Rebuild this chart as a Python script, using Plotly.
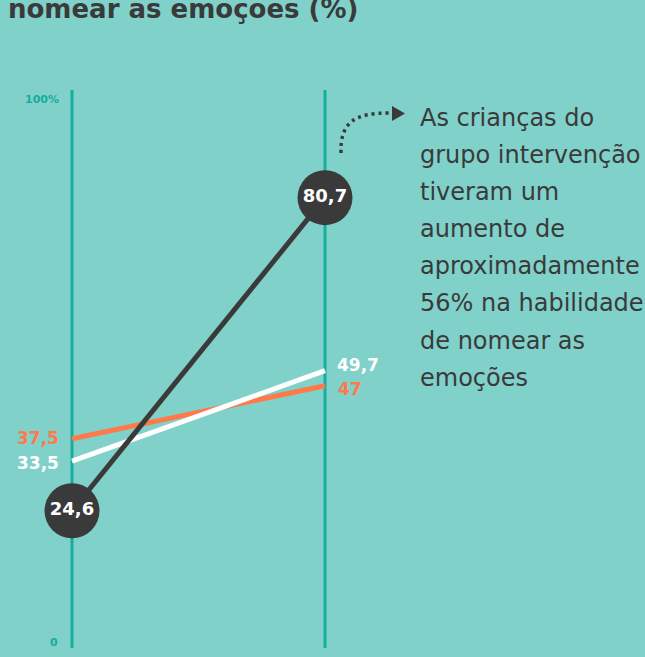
import plotly.graph_objects as go

# ---- data ----
moments = [0, 1]                      # before / after
series_names = ["Intervenção", "Controle A", "Controle B"]
dark_vals = [24.6, 80.7]
white_vals = [33.5, 49.7]
orange_vals = [37.5, 47.0]
dark_labels = ["24,6", "80,7"]
white_labels = ["33,5", "49,7"]
orange_labels = ["37,5", "47"]
axis_ticks = [0, 100]
axis_ticktext = ["0", "100%"]
title_text = "nomear as emoções (%)"
note_lines = ["As crianças do", "grupo intervenção", "tiveram um", "aumento de",
              "aproximadamente", "56% na habilidade", "de nomear as", "emoções"]

# ---- style ----
W, H = 645, 657
BG = "#80d1ca"
TEAL = "#14ad9e"
DARK = "#3a3a3a"
ORANGE = "#ff7a4a"
WHITE = "#ffffff"
FONT = "DejaVu Sans"

# pixel mapping helpers (for paper-positioned decoration)
def px(x):
    return x / W

def py(y):
    return 1 - y / H

# axis ranges: x=0 at 72px, x=1 at 325px ; y=0 at 648px, 100 at 90px
xs = 325 - 72
x_min = -72 / xs
x_max = x_min + W / xs
ys = (648 - 90) / 100
y_min = -(H - 648) / ys
y_max = y_min + H / ys

fig = go.Figure()

# vertical axis lines
for m in moments:
    fig.add_shape(type="line", xref="x", yref="y", x0=m, x1=m,
                  y0=axis_ticks[0], y1=axis_ticks[1],
                  line=dict(color=TEAL, width=3), layer="below")

fig.add_trace(go.Scatter(x=moments, y=orange_vals, mode="lines",
                         line=dict(color=ORANGE, width=5), name=series_names[2],
                         hoverinfo="skip"))
fig.add_trace(go.Scatter(x=moments, y=white_vals, mode="lines",
                         line=dict(color=WHITE, width=5), name=series_names[1],
                         hoverinfo="skip"))
fig.add_trace(go.Scatter(x=moments, y=dark_vals, mode="lines+markers+text",
                         line=dict(color=DARK, width=5),
                         marker=dict(size=55, color=DARK),
                         text=dark_labels, textposition="middle center",
                         textfont=dict(family=FONT, size=18, color=WHITE, weight="bold"),
                         name=series_names[0], hoverinfo="skip"))

annotations = []
# side labels for orange / white
annotations.append(dict(x=moments[0], y=orange_vals[0], text=orange_labels[0],
                        xanchor="right", yanchor="middle", xshift=-11, yshift=1,
                        showarrow=False, font=dict(family=FONT, size=17, color=ORANGE, weight="bold")))
annotations.append(dict(x=moments[0], y=white_vals[0], text=white_labels[0],
                        xanchor="right", yanchor="middle", xshift=-11, yshift=-2,
                        showarrow=False, font=dict(family=FONT, size=17, color=WHITE, weight="bold")))
annotations.append(dict(x=moments[1], y=white_vals[1], text=white_labels[1],
                        xanchor="left", yanchor="middle", xshift=10, yshift=6,
                        showarrow=False, font=dict(family=FONT, size=17, color=WHITE, weight="bold")))
annotations.append(dict(x=moments[1], y=orange_vals[1], text=orange_labels[1],
                        xanchor="left", yanchor="middle", xshift=11, yshift=-3,
                        showarrow=False, font=dict(family=FONT, size=17, color=ORANGE, weight="bold")))

# axis end labels
annotations.append(dict(x=moments[0], y=axis_ticks[1], text=axis_ticktext[1],
                        xanchor="right", yanchor="middle", xshift=-11, yshift=-9,
                        showarrow=False, font=dict(family=FONT, size=11, color=TEAL, weight="bold")))
annotations.append(dict(x=moments[0], y=axis_ticks[0], text=axis_ticktext[0],
                        xanchor="right", yanchor="middle", xshift=-12, yshift=6,
                        showarrow=False, font=dict(family=FONT, size=11, color=TEAL, weight="bold")))

# title (cut at top, as in the source image)
annotations.append(dict(xref="paper", yref="paper", x=px(7), y=1, text=title_text,
                        xanchor="left", yanchor="top", yshift=7, borderpad=0,
                        showarrow=False, font=dict(family=FONT, size=26, color=DARK, weight="bold")))

# note text
for i, line in enumerate(note_lines):
    annotations.append(dict(xref="paper", yref="paper", x=px(418), y=py(118 + 37.1 * i),
                            text=line, xanchor="left", yanchor="middle", showarrow=False,
                            font=dict(family=FONT, size=24, color=DARK)))

# dotted curved arrow
shapes = [
    dict(type="path", xref="paper", yref="paper",
         path=f"M {px(341)},{py(153)} C {px(340)},{py(122)} {px(355)},{py(113)} {px(389)},{py(113)}",
         line=dict(color=DARK, width=3.5, dash="3px,4px")),
    dict(type="path", xref="paper", yref="paper",
         path=f"M {px(392)},{py(106)} L {px(405)},{py(113.5)} L {px(392)},{py(121)} Z",
         fillcolor=DARK, line=dict(color=DARK, width=0)),
]
for s in shapes:
    fig.add_shape(**s)

fig.update_layout(
    width=W, height=H,
    margin=dict(l=0, r=0, t=0, b=0),
    paper_bgcolor=BG, plot_bgcolor=BG,
    showlegend=False,
    xaxis=dict(range=[x_min, x_max], visible=False, fixedrange=True),
    yaxis=dict(range=[y_min, y_max], visible=False, fixedrange=True),
    annotations=annotations,
)

fig.write_html("out.html", config={"displayModeBar": False},
               post_script="document.body.style.margin='0';document.body.style.overflow='hidden';")
